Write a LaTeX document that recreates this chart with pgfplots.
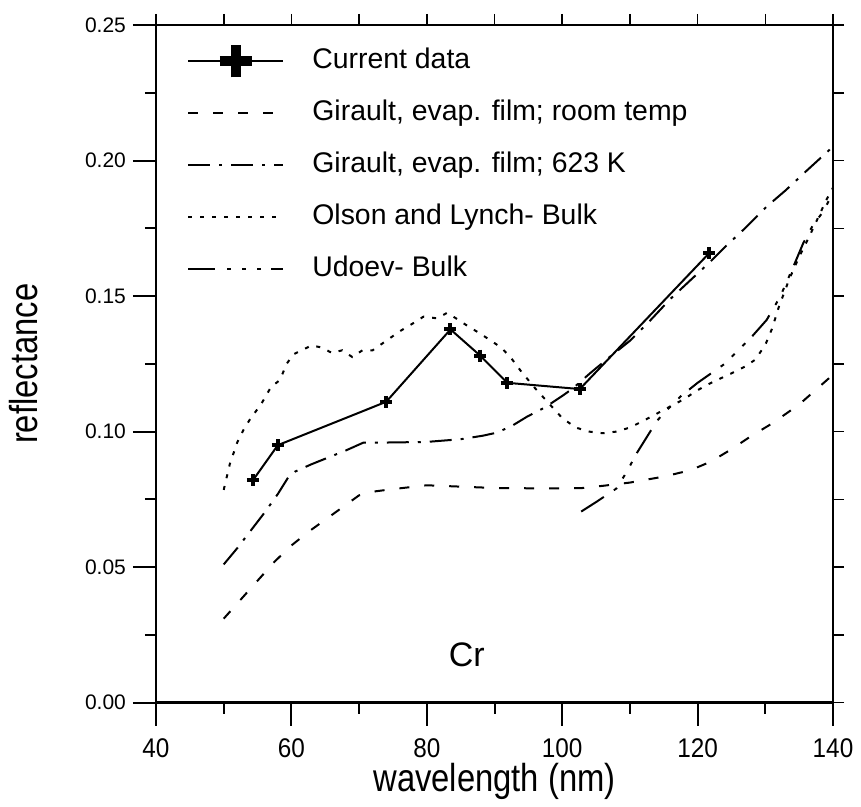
\documentclass[border=0pt]{standalone}
\usepackage{pgfplots}
\pgfplotsset{compat=1.18}
\usepackage{fontspec}
\setmainfont{Liberation Sans}
\newfontfamily\narrowfont[FakeStretch=0.9]{Liberation Sans}
\newfontfamily\labelfont[FakeStretch=0.84]{Liberation Sans}

\begin{document}
\begin{tikzpicture}
\begin{axis}[
  at={(0,0)}, anchor=south west,
  scale only axis, width=338.5pt, height=338.85pt,
  xmin=40, xmax=140, ymin=0, ymax=0.25,
  clip=false,
  xtick={40,60,...,140}, minor xtick={50,70,...,130},
  ytick={0,0.05,0.1,0.15,0.2,0.25}, minor ytick={0.025,0.075,0.125,0.175,0.225},
  tick pos=left, tick align=outside,
  major tick length=11.5pt, minor tick length=5.5pt,
  every tick/.style={black, line width=1pt},
  axis line style={line width=0.8pt},
  /pgf/number format/assume math mode=true,
  yticklabel style={/pgf/number format/.cd, fixed, fixed zerofill, precision=2, /tikz/.cd,
     font=\fontsize{10.5}{10.5}\selectfont},
  xticklabel style={font=\narrowfont\fontsize{13.5}{13.5}\selectfont, yshift=-3pt},
  legend image code/.code={\draw[#1] (0pt,0pt) -- (47.5pt,0pt);},
  legend cell align=left,
  legend style={at={(axis description cs:0,1)}, anchor=north west, xshift=15.5pt, yshift=-11.5pt,
     draw=none, fill=none, inner sep=0pt, row sep=13pt,
     nodes={inner sep=0pt, text height=10pt, text depth=3pt, font=\fontsize{14.2}{14.2}\selectfont},
     /tikz/every odd column/.append style={column sep=14pt}},
]
\addplot[black, line width=1pt, mark=+, mark size=3pt, mark options={line width=2pt, solid},
  legend image code/.code={
    \draw[line width=1pt] (0pt,0pt) -- (47.5pt,0pt);
    \draw[line width=5pt, overlay] (15.75pt,0pt) -- (31.75pt,0pt);
    \draw[line width=5pt, overlay] (23.75pt,-8pt) -- (23.75pt,8pt);}]
 coordinates {(54.3,0.082) (58.0,0.095) (74.0,0.111) (83.5,0.1377) (87.9,0.128) (91.9,0.118) (102.6,0.1157) (121.7,0.1658)};
\addlegendentry{Current data}

\addplot[black, line width=1pt, dash pattern=on 5pt off 7.5pt]
 coordinates {(50,0.031) (52.5,0.038) (55,0.045) (57.5,0.052) (60,0.058) (62.5,0.063) (65,0.0675) (67.5,0.072) (70,0.0765) (72.5,0.078) (75,0.0788) (80,0.0802) (85,0.0797) (90,0.0792) (95,0.0791) (100,0.0791) (103,0.0792) (106,0.0800) (110,0.0812) (115,0.0834) (119,0.0858) (122,0.089) (125,0.0935) (128,0.0985) (131,0.103) (135,0.110) (140,0.121)};
\addlegendentry{Girault, evap. film; room temp}

\addplot[black, line width=1pt, dash pattern=on 11pt off 4.5pt on 1.5pt off 4.5pt]
 coordinates {(50,0.051) (52,0.057) (54,0.0635) (56,0.070) (58,0.077) (59.5,0.083) (60.5,0.0852) (63,0.088) (65.7,0.0907) (68,0.093) (70.6,0.0959) (75,0.096) (80,0.0962) (85,0.0972) (88.3,0.0985) (90.3,0.0996) (92.5,0.102) (94.8,0.1055) (97.5,0.109) (100.2,0.1135) (101.6,0.116) (104.1,0.1215) (107,0.1275) (110,0.1335) (113,0.141) (116,0.149) (119,0.156) (121.8,0.1625) (124,0.168) (127,0.175) (130.2,0.183) (133,0.189) (136,0.196) (139.5,0.204) (140,0.2055)};
\addlegendentry{Girault, evap. film; 623 K}

\addplot[black, line width=1pt, dash pattern=on 2pt off 4pt]
 coordinates {(50,0.0785) (50.9,0.088) (52,0.096) (53,0.101) (54,0.105) (55.5,0.110) (57,0.1165) (58.3,0.119) (59.3,0.125) (60.3,0.1285) (61.5,0.130) (63,0.1318) (64.5,0.131) (66,0.129) (67.5,0.130) (69,0.1275) (70.5,0.130) (72,0.130) (74,0.1335) (76,0.137) (78,0.140) (79.5,0.1424) (81.5,0.1418) (83,0.1438) (84.5,0.1415) (86,0.139) (88,0.136) (89.5,0.1335) (91,0.131) (92.5,0.127) (94,0.122) (96,0.116) (98,0.1105) (100,0.105) (102,0.1015) (104,0.1000) (106,0.0994) (108,0.1000) (110,0.1015) (112,0.104) (115,0.108) (118,0.112) (120,0.1153) (122,0.118) (125,0.1215) (127,0.124) (128.5,0.1265) (130,0.132) (131,0.138) (132,0.146) (133.5,0.156) (135,0.1645) (136.5,0.172) (138,0.180) (139,0.1854) (140,0.190)};
\addlegendentry{Olson and Lynch- Bulk}

\addplot[black, line width=1pt, dash pattern=on 13.5pt off 6pt on 2pt off 5.5pt on 2pt off 5.5pt on 2pt off 5pt]
 coordinates {(102.8,0.0705) (105,0.074) (108,0.079) (109.5,0.085) (111,0.092) (112.5,0.098) (114,0.104) (115.5,0.108) (117.5,0.113) (120,0.118) (122,0.1215) (124,0.125) (126,0.130) (128,0.135) (130.2,0.1412) (132.2,0.1498) (134,0.160) (135.6,0.1695) (137,0.176) (138.5,0.181) (140,0.188)};
\addlegendentry{Udoev- Bulk}

\node[font=\fontsize{17}{17}\selectfont] at (axis cs:85.9,0.0176) {Cr};
\node[font=\labelfont\fontsize{19.5}{19.5}\selectfont, anchor=north, inner sep=0pt]
  at ([yshift=-30pt]axis description cs:0.5,0) {wavelength (nm)};
\node[font=\labelfont\fontsize{19.5}{19.5}\selectfont, rotate=90, anchor=south, inner sep=0pt]
  at ([xshift=-59pt]axis description cs:0,0.5) {reflectance};
\draw[line width=1.5pt] (rel axis cs:0,0) -- (rel axis cs:1,0);
\end{axis}
\begin{axis}[
  at={(0,0)}, anchor=south west,
  scale only axis, width=338.5pt, height=338.85pt,
  xmin=40, xmax=140, ymin=0, ymax=0.25,
  xtick={40,60,...,140}, minor xtick={50,70,...,130},
  ytick={0,0.05,0.1,0.15,0.2,0.25}, minor ytick={0.025,0.075,0.125,0.175,0.225},
  xtick pos=right, ytick pos=right, tick align=outside,
  major tick length=5.5pt, minor tick length=5.5pt,
  every tick/.style={black, line width=0.8pt},
  axis line style={line width=1pt},
  xticklabels={}, yticklabels={},
]
\end{axis}
\pgfresetboundingbox
\path[use as bounding box] (-78pt,-52.15pt) rectangle (352.5pt,351.35pt);
\end{tikzpicture}
\end{document}
